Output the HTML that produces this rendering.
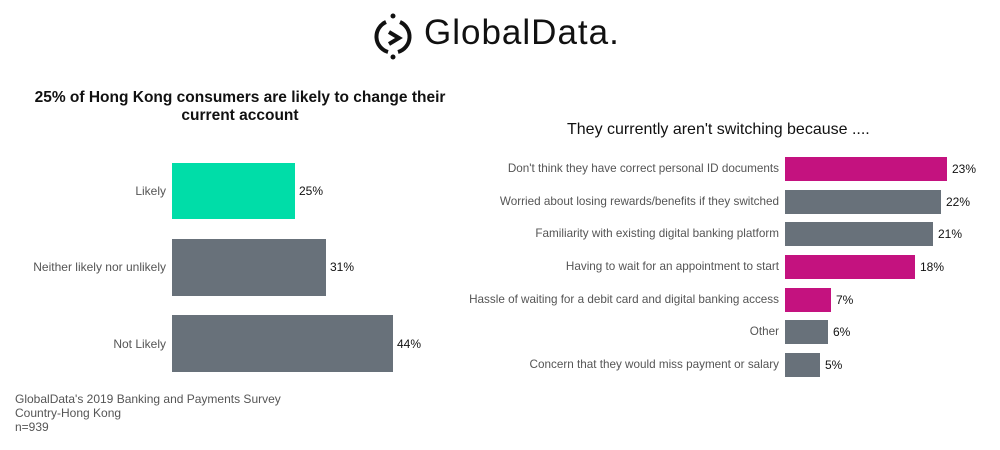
<!DOCTYPE html>
<html><head><style>
body{margin:0;width:1000px;height:450px;background:#fff;font-family:"Liberation Sans",sans-serif;position:relative;overflow:hidden}
.a{position:absolute}
.b{position:absolute}
.l{position:absolute;font-size:12px;color:#555;text-align:right;white-space:nowrap}
.r{font-size:11.7px}
.v{position:absolute;font-size:12px;color:#111}
</style></head><body>
<svg class="a" style="left:374px;top:12px" width="40" height="48" viewBox="0 0 40 48">
<path d="M12 10 A16 16 0 0 0 14 40" fill="none" stroke="#111" stroke-width="4"/>
<path d="M26 10 A16 16 0 0 1 24 40" fill="none" stroke="#111" stroke-width="4"/>
<path d="M15 20 L25 26 L15 32" fill="none" stroke="#111" stroke-width="4"/>
<circle cx="19" cy="4" r="2.5" fill="#111"/><circle cx="19" cy="45" r="2.5" fill="#111"/>
</svg>
<div class="a" style="left:424px;top:13px;font-size:35px;color:#111;letter-spacing:1px">GlobalData.</div>
<div class="a" style="left:10px;top:89px;width:460px;text-align:center;font-weight:bold;font-size:15.5px;line-height:18px;color:#111">25% of Hong Kong consumers are likely to change their<br>current account</div>
<div class="b" style="left:172px;top:163px;width:123px;height:56px;background:#00dda8"></div>
<div class="b" style="left:172px;top:239px;width:154px;height:57px;background:#68717a"></div>
<div class="b" style="left:172px;top:315px;width:221px;height:57px;background:#68717a"></div>
<div class="l" style="right:834px;top:184px">Likely</div>
<div class="l" style="right:834px;top:260px">Neither likely nor unlikely</div>
<div class="l" style="right:834px;top:337px">Not Likely</div>
<div class="v" style="left:299px;top:184px">25%</div>
<div class="v" style="left:330px;top:260px">31%</div>
<div class="v" style="left:397px;top:337px">44%</div>
<div class="a" style="left:15px;top:392px;font-size:12px;color:#555;line-height:14px">GlobalData's 2019 Banking and Payments Survey<br>Country-Hong Kong<br>n=939</div>
<div class="a" style="left:567px;top:121px;font-size:16px;color:#111">They currently aren't switching because ....</div>
<div class="b" style="left:785px;top:157px;width:162px;height:24px;background:#c4127f"></div>
<div class="b" style="left:785px;top:190px;width:156px;height:24px;background:#68717a"></div>
<div class="b" style="left:785px;top:222px;width:148px;height:24px;background:#68717a"></div>
<div class="b" style="left:785px;top:255px;width:130px;height:24px;background:#c4127f"></div>
<div class="b" style="left:785px;top:288px;width:46px;height:24px;background:#c4127f"></div>
<div class="b" style="left:785px;top:320px;width:43px;height:24px;background:#68717a"></div>
<div class="b" style="left:785px;top:353px;width:35px;height:24px;background:#68717a"></div>
<div class="l r" style="right:221px;top:162px">Don't think they have correct personal ID documents</div>
<div class="l r" style="right:221px;top:195px">Worried about losing rewards/benefits if they switched</div>
<div class="l r" style="right:221px;top:227px">Familiarity with existing digital banking platform</div>
<div class="l r" style="right:221px;top:260px">Having to wait for an appointment to start</div>
<div class="l r" style="right:221px;top:293px">Hassle of waiting for a debit card and digital banking access</div>
<div class="l r" style="right:221px;top:325px">Other</div>
<div class="l r" style="right:221px;top:358px">Concern that they would miss payment or salary</div>
<div class="v" style="left:952px;top:162px">23%</div>
<div class="v" style="left:946px;top:195px">22%</div>
<div class="v" style="left:938px;top:227px">21%</div>
<div class="v" style="left:920px;top:260px">18%</div>
<div class="v" style="left:836px;top:293px">7%</div>
<div class="v" style="left:833px;top:325px">6%</div>
<div class="v" style="left:825px;top:358px">5%</div>
</body></html>
